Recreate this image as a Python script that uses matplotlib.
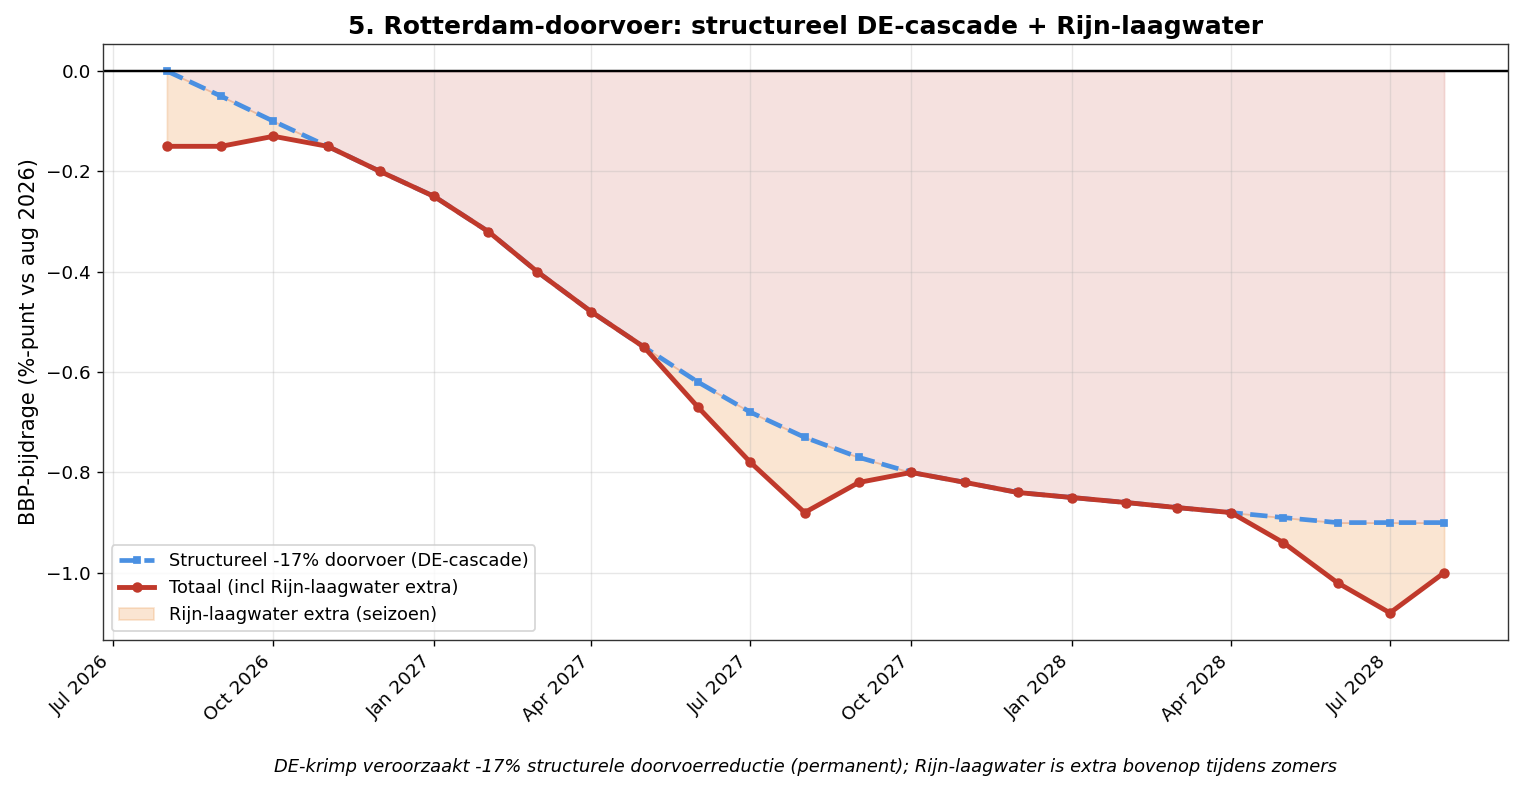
import matplotlib
matplotlib.use('Agg')
import matplotlib.pyplot as plt
import matplotlib.dates as mdates
import numpy as np
import pandas as pd

# Monthly points, Aug 2026 .. Aug 2028
months = pd.date_range('2026-08-01', '2028-08-01', freq='MS')

structureel = [0.00, -0.05, -0.10, -0.15, -0.20, -0.25, -0.32, -0.40, -0.48,
               -0.55, -0.62, -0.68, -0.73, -0.77, -0.80, -0.82, -0.84, -0.85,
               -0.86, -0.87, -0.88, -0.89, -0.90, -0.90, -0.90]
totaal = [-0.15, -0.15, -0.13, -0.15, -0.20, -0.25, -0.32, -0.40, -0.48,
          -0.55, -0.67, -0.78, -0.88, -0.82, -0.80, -0.82, -0.84, -0.85,
          -0.86, -0.87, -0.88, -0.94, -1.02, -1.08, -1.00]

structureel = np.array(structureel)
totaal = np.array(totaal)

fig = plt.figure(figsize=(1524 / 125, 791 / 125), dpi=125)
ax = fig.add_axes([0.0676, 0.1909, 0.9219, 0.7535])

# shaded areas
ax.fill_between(months, 0, structureel, color='#c0392b', alpha=0.15)
ax.fill_between(months, structureel, totaal, where=totaal <= structureel,
                interpolate=True, color='#e67e22', alpha=0.2,
                label='Rijn-laagwater extra (seizoen)')

ax.plot(months, structureel, color='#4a90e2', linestyle='--', linewidth=2.7,
        marker='s', markersize=4, label='Structureel -17% doorvoer (DE-cascade)')
ax.plot(months, totaal, color='#c0392b', linewidth=2.8, marker='o',
        markersize=5, label='Totaal (incl Rijn-laagwater extra)')

ax.axhline(0, color='black', linewidth=1.4)

ax.set_title('5. Rotterdam-doorvoer: structureel DE-cascade + Rijn-laagwater',
             fontsize=14.4, fontweight='bold')
ax.set_ylabel('BBP-bijdrage (%-punt vs aug 2026)', fontsize=12)

ax.xaxis.set_major_locator(mdates.MonthLocator(bymonth=[1, 4, 7, 10]))
ax.xaxis.set_major_formatter(mdates.DateFormatter('%b %Y'))
ax.tick_params(labelsize=10.6)
plt.setp(ax.get_xticklabels(), rotation=45, ha='right')

ax.grid(True, alpha=0.3)
for s in ax.spines.values():
    s.set_color('#333333')

# legend order: lines first, then the fill patch
h, l = ax.get_legend_handles_labels()
order = [1, 2, 0]
ax.legend([h[i] for i in order], [l[i] for i in order], loc='lower left',
          fontsize=10.2)

fig.text(0.5286, 0.03,
         'DE-krimp veroorzaakt -17% structurele doorvoerreductie (permanent); '
         'Rijn-laagwater is extra bovenop tijdens zomers',
         ha='center', va='center', style='italic', fontsize=10.3)

fig.savefig('out.png', dpi=125)
